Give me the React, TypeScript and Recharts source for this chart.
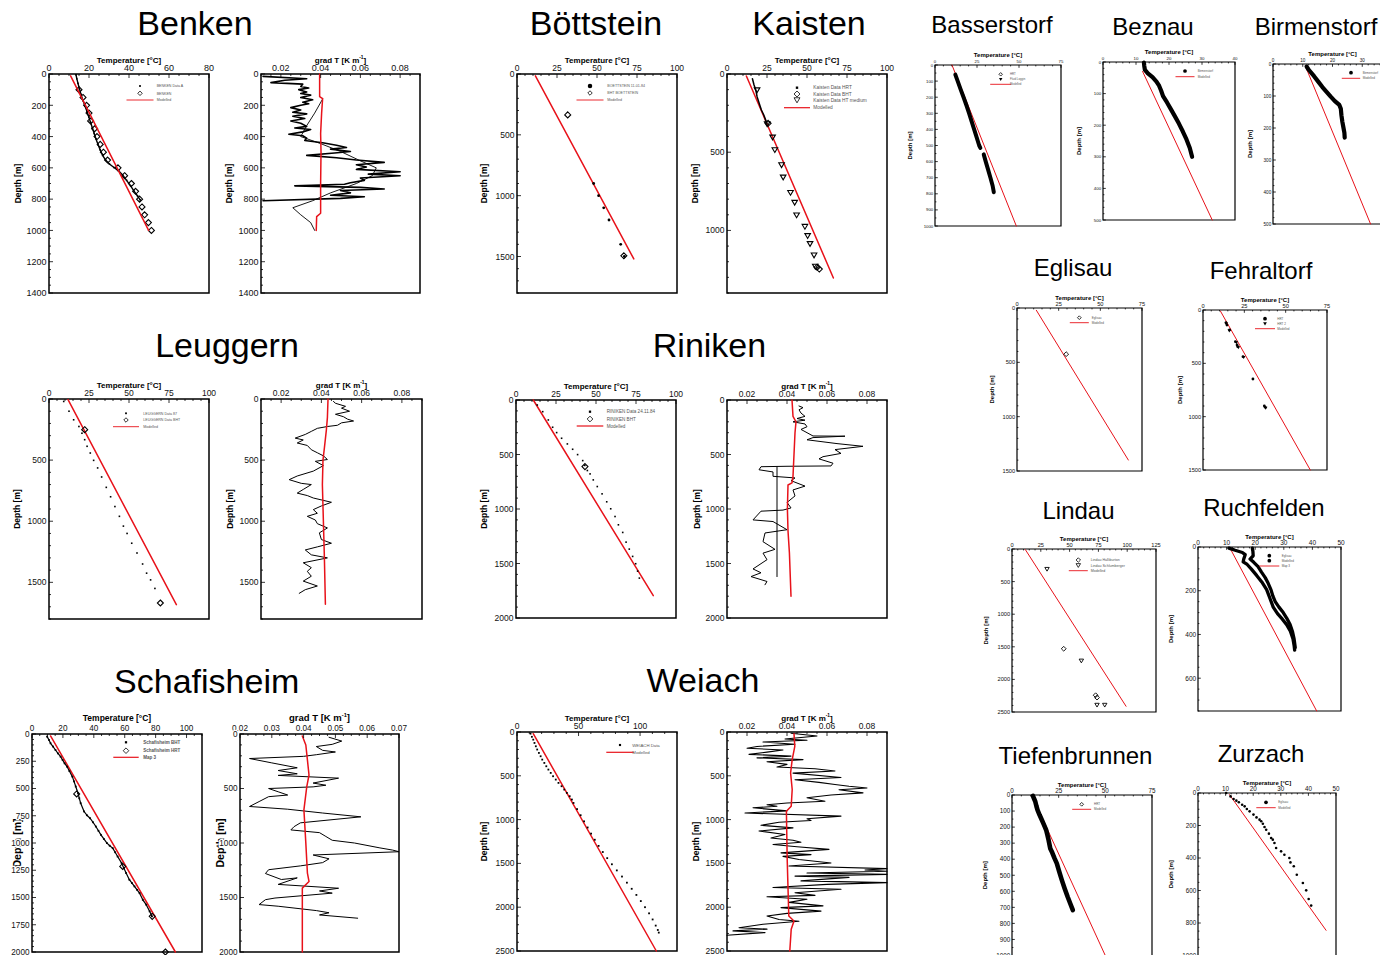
import React from 'react';
import { ScatterChart, Scatter, XAxis, YAxis, ReferenceArea } from 'recharts';

type P = [number, number];

// ---------------- Benken ----------------
const benkenDataA: P[] = [[13.5,5],[13.9,30],[14.5,60],[15.2,95],[16.0,130],[17.0,170],[18.0,205],[19.0,240],[19.9,275],[20.8,310],[21.7,345],[22.6,380],[23.5,415],[24.5,450],[25.6,485],[26.8,520],[28.3,550],[30.2,575],[32.5,598],[34.8,618],[36.8,645],[38.8,680],[40.8,715],[42.6,750],[44.3,780],[45.6,805]];
const benkenBht: P[] = [[15.0,100],[17.0,150],[18.8,200],[20.0,250],[20.8,300],[22.8,350],[24.0,400],[25.6,450],[27.2,500],[29.3,550],[34.5,600],[37.8,650],[41.2,700],[43.3,750],[45.3,800],[46.5,850],[47.8,900],[49.7,950],[51.2,1000]];
const benkenModel: P[] = [[10.8,12],[49.8,1000]];
const benkenGrad: P[] = [[0.011,15],[0.033,30],[0.022,40],[0.015,55],[0.031,65],[0.030,80],[0.034,90],[0.029,100],[0.033,115],[0.030,125],[0.035,135],[0.030,150],[0.036,165],[0.031,180],[0.034,190],[0.030,200],[0.025,215],[0.030,230],[0.026,245],[0.033,255],[0.026,270],[0.032,285],[0.025,300],[0.030,315],[0.033,335],[0.027,345],[0.035,355],[0.031,370],[0.024,385],[0.031,395],[0.033,410],[0.032,425],[0.041,440],[0.048,455],[0.053,470],[0.045,480],[0.055,495],[0.047,505],[0.033,520],[0.048,535],[0.058,550],[0.072,565],[0.058,580],[0.063,595],[0.058,610],[0.080,625],[0.064,640],[0.080,650],[0.060,665],[0.062,680],[0.055,695],[0.052,705],[0.027,715],[0.060,725],[0.072,735],[0.050,745],[0.055,760],[0.045,775],[0.062,785],[0.050,795],[0.011,810]];
const benkenGradSmooth: P[] = [[0.041,160],[0.037,250],[0.033,330],[0.030,400],[0.040,445],[0.050,495],[0.060,555],[0.068,600],[0.066,650],[0.058,700],[0.045,760],[0.036,810],[0.026,855],[0.030,900],[0.035,950],[0.037,1000]];
const benkenGradModel: P[] = [[0.0395,0],[0.0395,145],[0.041,158],[0.0405,250],[0.0400,380],[0.0402,500],[0.0400,700],[0.0400,890],[0.0380,912],[0.0378,1000]];

// ---------------- Böttstein ----------------
const boettData: P[] = [[47.9,900],[51.0,1000],[54.2,1100],[57.5,1200],[64.8,1400],[67.1,1500]];
const boettBht: P[] = [[31.7,336],[66.8,1494]];
const boettModel: P[] = [[11.5,15],[73.0,1520]];

// ---------------- Kaisten ----------------
const kaistenHrt: P[] = [[15.9,30],[16.9,70],[18.0,102],[18.8,145],[20.1,187],[21.5,230],[23.0,262],[24.3,298],[25.1,319]];
const kaistenBht: P[] = [[25.7,315],[56.3,1235],[57.7,1247]];
const kaistenHt: P[] = [[18.8,102],[25.1,319],[28.5,404],[29.9,485],[34.1,581],[35.1,660],[39.7,758],[42.3,821],[43.5,902],[48.7,975],[50.4,1034],[51.9,1085],[54.4,1158],[55.2,1230]];
const kaistenModel: P[] = [[12.1,13],[66.5,1304]];

// ---------------- Basserstorf ----------------
const basserHrtUpper: P[] = [[12.1,60],[13.5,100],[15.2,150],[17.0,200],[18.7,250],[20.3,300],[21.8,350],[23.3,400],[24.8,450],[26.3,500],[27.0,515]];
const basserHrtLower: P[] = [[29.0,555],[30.2,600],[31.6,650],[33.0,700],[34.3,750],[35.0,790]];
const basserModel: P[] = [[10.1,0],[48.4,1000]];

// ---------------- Beznau ----------------
const beznauData: P[] = [[12.4,2],[12.5,12],[12.7,25],[13.6,36],[15.0,48],[16.2,62],[17.0,75],[17.6,90],[18.2,108],[19.4,128],[20.6,150],[21.8,172],[23.0,195],[24.2,220],[25.3,245],[26.3,272],[27.0,300]];
const beznauModel: P[] = [[12.0,30],[33.1,500]];

// ---------------- Birmenstorf ----------------
const birmenData: P[] = [[11.3,8],[12.0,18],[13.8,38],[15.2,55],[16.6,72],[18.0,87],[19.4,102],[20.8,116],[22.3,128],[22.8,140],[23.0,160],[23.3,180],[23.7,200],[24.0,215],[24.1,230]];
const birmenModel: P[] = [[10.9,7],[32.8,500]];

// ---------------- Eglisau ----------------
const eglisauData: P[] = [[29.5,425]];
const eglisauModel: P[] = [[11.6,21],[66.8,1399]];

// ---------------- Fehraltorf ----------------
const fehrHrt: P[] = [[13.9,119],[14.5,141],[16.1,187],[19.6,297],[20.6,328],[21.0,344],[24.2,438],[30.2,647],[37.1,900],[37.7,912]];
const fehrHrt2: P[] = [[14.1,131],[15.9,194],[20.2,306],[21.4,353],[24.6,444],[37.9,919]];
const fehrModel: P[] = [[10.5,9],[64.9,1500]];

// ---------------- Leuggern ----------------
const leuggData: P[] = [[9.2,20],[12.5,100],[15.4,170],[18.7,225],[20.6,280],[22.3,333],[23.8,387],[25.8,442],[27.9,502],[30.4,564],[32.9,638],[35.8,723],[38.5,800],[41.2,880],[44.0,960],[46.5,1040],[48.8,1100],[51.7,1180],[55.0,1260],[58.5,1350],[61.0,1425],[63.5,1480],[66.2,1550]];
const leuggBht: P[] = [[22.3,251],[69.6,1669]];
const leuggModel: P[] = [[11.9,5],[79.6,1683]];
const leuggGrad: P[] = [[0.046,20],[0.047,35],[0.052,60],[0.050,75],[0.054,100],[0.047,125],[0.051,145],[0.053,165],[0.056,180],[0.050,195],[0.048,215],[0.043,225],[0.038,240],[0.035,265],[0.032,290],[0.027,320],[0.031,335],[0.028,360],[0.033,380],[0.035,415],[0.038,440],[0.041,465],[0.043,495],[0.037,510],[0.041,545],[0.036,590],[0.028,630],[0.024,660],[0.030,690],[0.035,700],[0.031,740],[0.028,770],[0.033,790],[0.036,810],[0.045,845],[0.040,875],[0.036,905],[0.038,935],[0.033,960],[0.037,990],[0.038,1020],[0.043,1055],[0.039,1095],[0.040,1150],[0.045,1180],[0.038,1210],[0.032,1235],[0.035,1275],[0.043,1300],[0.031,1340],[0.035,1380],[0.033,1410],[0.035,1450],[0.031,1490],[0.038,1530],[0.032,1560],[0.029,1590]];
const leuggGradModel: P[] = [[0.0433,0],[0.0430,150],[0.0425,250],[0.0415,400],[0.0408,500],[0.0405,700],[0.0410,1000],[0.0415,1300],[0.0420,1680]];

// ---------------- Riniken ----------------
const rinData: P[] = [[13.3,46],[16.7,107],[20.2,183],[22.9,250],[25.4,299],[28.5,351],[32.1,403],[35.4,452],[38.5,501],[41.7,556],[43.0,600],[44.6,647],[46.3,678],[48.3,733],[50.8,794],[53.8,861],[56.7,934],[59.2,998],[61.9,1069],[64.0,1145],[66.7,1215],[68.8,1304],[70.8,1368],[72.9,1435],[74.8,1502],[76.0,1570],[77.1,1634]];
const rinBht: P[] = [[43.1,611]];
const rinModel: P[] = [[10.8,0],[85.8,1795]];
const rinGrad: P[] = [[0.046,55],[0.048,70],[0.046,90],[0.047,120],[0.049,150],[0.045,170],[0.049,185],[0.043,200],[0.049,220],[0.050,245],[0.047,270],[0.050,300],[0.053,330],[0.069,332],[0.053,345],[0.050,365],[0.065,400],[0.078,425],[0.064,455],[0.067,490],[0.058,520],[0.056,540],[0.063,580],[0.062,605],[0.040,608],[0.027,612],[0.026,640],[0.033,660],[0.033,700],[0.044,715],[0.042,740],[0.049,790],[0.043,825],[0.044,880],[0.040,940],[0.042,990],[0.038,1010],[0.027,1020],[0.023,1100],[0.033,1115],[0.040,1190],[0.029,1220],[0.028,1300],[0.034,1370],[0.028,1405],[0.030,1465],[0.023,1550],[0.027,1585],[0.022,1620],[0.030,1665],[0.029,1695]];
const rinGradMean: P[] = [[0.035,615],[0.035,1620]];
const rinGradModel: P[] = [[0.0425,0],[0.0430,150],[0.0445,200],[0.0440,300],[0.0435,500],[0.0430,700],[0.0425,760],[0.0405,780],[0.0402,1000],[0.0405,1200],[0.0412,1400],[0.0420,1800]];

// ---------------- Lindau ----------------
const lindauHall: P[] = [[44.9,1530],[72.6,2243],[73.8,2279]];
const lindauSchl: P[] = [[30.4,308],[60.2,1714],[73.8,2392],[80.5,2392]];
const lindauModel: P[] = [[11.6,10],[99.0,2412]];

// ---------------- Ruchfelden ----------------
const ruchLogA: P[] = [[10.8,5],[13.0,15],[15.5,25],[16.5,35],[16.0,55],[15.8,68],[17.2,80],[18.6,100],[20.5,130],[22.3,160],[24.0,195],[25.3,240],[26.3,275],[27.8,305],[29.5,330],[31.0,355],[32.3,385],[33.2,420],[33.6,450],[33.8,472]];
const ruchLogB: P[] = [[19.0,5],[19.2,20],[19.3,40],[18.2,55],[19.5,70],[21.0,90],[22.2,115],[23.5,140],[24.5,165],[25.5,195],[26.2,225],[27.0,250],[28.3,275],[29.8,300],[31.0,325],[32.2,355],[33.0,385],[33.6,420],[34.0,460]];
const ruchModel: P[] = [[11.1,3],[41.5,750]];

// ---------------- Schafisheim ----------------
const schBht: P[] = [[9.8,24],[11.0,55],[12.0,85],[13.6,115],[15.2,147],[16.8,178],[18.5,208],[19.8,238],[21.1,269],[22.7,300],[24.2,340],[26.1,391],[27.2,435],[28.3,482],[29.8,543],[30.6,590],[31.5,635],[33.7,711],[35.5,745],[37.6,773],[39.5,810],[41.3,849],[43.0,888],[44.6,925],[46.5,963],[48.5,1001],[50.3,1025],[52.2,1047],[53.8,1085],[55.4,1124],[58.0,1185],[59.4,1230],[60.9,1276],[63.0,1337],[64.7,1368],[66.3,1398],[68.0,1430],[69.6,1460],[71.7,1521],[73.9,1566],[76.1,1627],[77.6,1673]];
const schHrt: P[] = [[28.9,550],[58.7,1215],[77.8,1673],[86.3,2000]];
const schModel: P[] = [[12.0,18],[92.8,2000]];
const schGrad: P[] = [[0.048,30],[0.052,65],[0.049,95],[0.044,115],[0.046,150],[0.050,165],[0.044,190],[0.040,205],[0.023,225],[0.030,265],[0.038,310],[0.032,335],[0.038,365],[0.032,380],[0.051,405],[0.043,450],[0.047,470],[0.043,485],[0.029,500],[0.032,530],[0.035,560],[0.029,575],[0.026,620],[0.023,665],[0.035,690],[0.046,725],[0.058,760],[0.039,815],[0.037,850],[0.036,880],[0.045,905],[0.047,940],[0.049,975],[0.056,1000],[0.064,1045],[0.068,1065],[0.070,1080],[0.043,1110],[0.048,1145],[0.046,1180],[0.039,1210],[0.029,1245],[0.028,1280],[0.033,1335],[0.038,1320],[0.032,1380],[0.051,1415],[0.045,1440],[0.049,1460],[0.031,1505],[0.028,1520],[0.026,1565],[0.032,1580],[0.044,1620],[0.048,1640],[0.045,1660],[0.057,1690]];
const schGradModel: P[] = [[0.0396,18],[0.0407,101],[0.0412,238],[0.0417,376],[0.0410,482],[0.0401,696],[0.0407,1001],[0.0412,1276],[0.0417,1353],[0.0396,1414],[0.0396,2000]];

// ---------------- Weiach ----------------
const weiData: P[] = [[11.0,19],[12.1,55],[13.2,87],[14.2,125],[15.3,163],[16.4,200],[17.8,239],[19.2,277],[20.5,315],[22.2,353],[23.8,391],[25.5,429],[27.4,467],[29.3,505],[31.5,543],[33.7,581],[36.2,619],[38.4,657],[40.5,695],[42.8,733],[44.6,771],[45.9,810],[48.8,880],[51.7,950],[54.5,1020],[57.4,1090],[60.2,1160],[63.2,1230],[66.3,1300],[69.7,1370],[73.3,1440],[77.1,1510],[81.1,1580],[85.3,1650],[89.3,1720],[93.2,1790],[97.0,1860],[100.6,1930],[104.0,2000],[107.3,2070],[110.2,2140],[112.7,2210],[114.4,2260],[115.2,2290]];
const weiModel: P[] = [[13.2,19],[113.2,2500]];
const weiGrad: P[] = [[0.042,15],[0.055,45],[0.039,80],[0.050,95],[0.028,115],[0.044,140],[0.025,165],[0.020,185],[0.038,205],[0.030,230],[0.021,255],[0.042,275],[0.025,295],[0.048,315],[0.030,340],[0.040,370],[0.035,400],[0.054,420],[0.064,445],[0.043,470],[0.067,520],[0.044,545],[0.056,575],[0.064,600],[0.071,620],[0.080,640],[0.066,660],[0.078,695],[0.062,720],[0.050,750],[0.059,790],[0.040,810],[0.030,830],[0.035,848],[0.023,865],[0.040,900],[0.019,925],[0.067,960],[0.050,990],[0.052,1010],[0.036,1030],[0.027,1065],[0.043,1095],[0.026,1130],[0.039,1170],[0.032,1210],[0.043,1235],[0.047,1258],[0.033,1285],[0.045,1310],[0.061,1340],[0.037,1380],[0.052,1400],[0.038,1420],[0.046,1455],[0.062,1495],[0.041,1530],[0.090,1560],[0.079,1575],[0.090,1590],[0.050,1610],[0.090,1625],[0.044,1645],[0.071,1660],[0.047,1700],[0.090,1720],[0.060,1740],[0.033,1775],[0.067,1795],[0.044,1835],[0.054,1865],[0.030,1880],[0.050,1910],[0.041,1945],[0.058,1985],[0.037,2005],[0.057,2045],[0.040,2070],[0.030,2100],[0.036,2140],[0.046,2160],[0.028,2195],[0.016,2235],[0.030,2250],[0.013,2270],[0.029,2290],[0.010,2320]];
const weiGradModel: P[] = [[0.0435,19],[0.0439,163],[0.0426,315],[0.0418,467],[0.0426,657],[0.0421,847],[0.0397,904],[0.0401,1455],[0.0409,2101],[0.0435,2158],[0.0421,2253],[0.0414,2500]];

// ---------------- Tiefenbrunnen ----------------
const tiefData: P[] = [[11.2,6],[11.9,25],[12.5,42],[13.1,70],[13.7,94],[14.8,125],[16.0,156],[17.2,188],[18.3,218],[19.0,250],[19.6,281],[20.1,310],[20.5,333],[21.6,360],[22.8,395],[24.0,426],[25.3,478],[26.7,530],[28.2,582],[29.8,634],[31.2,676],[32.6,717]];
const tiefModel: P[] = [[10.7,4],[49.9,998]];

// ---------------- Zurzach ----------------
const zurzData: P[] = [[10.2,0],[11.8,21],[12.9,37],[13.9,47],[14.8,57],[16.0,72],[16.9,82],[17.7,98],[18.7,113],[20.1,133],[21.2,150],[22.3,164],[22.9,174],[23.5,189],[24.1,209],[24.7,226],[25.7,250],[26.5,277],[27.1,287],[27.7,308],[28.3,338],[30.1,359],[31.3,380],[33.1,400],[33.5,427],[34.7,451],[35.8,503],[38.0,554],[39.2,599],[40.1,652],[41.0,693]];
const zurzModel: P[] = [[11.4,10],[46.4,845]];

// ---------------- tick labels ----------------
const tTicks80 = [0, 20, 40, 60, 80];
const tTicks100 = [0, 25, 50, 75, 100];
const tTicks75 = [0, 25, 50, 75];
const tTicks40 = [0, 10, 20, 30, 40];
const tTicks50 = [0, 10, 20, 30, 40, 50];
const tTicks125 = [0, 25, 50, 75, 100, 125];
const tTicksSch = [0, 20, 40, 60, 80, 100];
const tTicksWei = [0, 50, 100];
const gTicks = [0.02, 0.04, 0.06, 0.08];
const gTicksSch = [0.02, 0.03, 0.04, 0.05, 0.06, 0.07];
const dTicks1400 = [0, 200, 400, 600, 800, 1000, 1200, 1400];
const dTicks1500 = [0, 500, 1000, 1500];
const dTicks1000by500 = [0, 500, 1000];
const dTicks1000 = [0, 100, 200, 300, 400, 500, 600, 700, 800, 900, 1000];
const dTicks500 = [0, 100, 200, 300, 400, 500];
const dTicks2000 = [0, 500, 1000, 1500, 2000];
const dTicks2500 = [0, 500, 1000, 1500, 2000, 2500];
const dTicks600 = [0, 200, 400, 600];
const dTicksSch = [0, 250, 500, 750, 1000, 1250, 1500, 1750, 2000];
const dTicksZurz = [0, 200, 400, 600, 800, 1000];

const RED = '#e8121a';
const FONT = '"Liberation Sans", Arial, Helvetica, sans-serif';

type Mark = 'line' | 'dot' | 'disc' | 'diamond' | 'tri' | 'triFill';
interface Ser { pts: P[]; mark: Mark; color?: string; w?: number; r?: number; join?: boolean }
interface LegItem { mark: Mark; label: string }
interface Leg { sx: number; tx: number; rows: number[]; fs: number; half: number; bold?: boolean; items: LegItem[] }
interface Pan {
  box: [number, number, number, number];
  xd: [number, number]; yd: [number, number];
  xMaj: number[]; xMin: number; yMaj: number[]; yMin: number;
  dec: number; kind: 'T' | 'G'; big: boolean; tf: number;
  depthDx: number; titleDy?: number; titleFs?: number; depthFs?: number; halo?: boolean;
  series: Ser[]; legend?: Leg;
}

const mod = (pts: P[], w = 1.5): Ser => ({ pts, mark: 'line', color: RED, w });

const panels: Pan[] = [
  { box: [49, 74, 160, 219], xd: [0, 80], yd: [0, 1400], xMaj: tTicks80, xMin: 5, yMaj: dTicks1400, yMin: 50, dec: 0, kind: 'T', big: true, tf: 9, depthDx: 31.5,
    series: [ { pts: benkenDataA, mark: 'dot', r: 0.8, join: true, w: 1.4 }, { pts: benkenBht, mark: 'diamond', r: 3 }, mod(benkenModel) ],
    legend: { sx: 140, tx: 156.7, rows: [86, 93.3, 100], fs: 3.6, half: 13.5, items: [ { mark: 'dot', label: 'BENKEN Data A' }, { mark: 'diamond', label: 'BENKEN' }, { mark: 'line', label: 'Modelled' } ] } },
  { box: [261, 74, 159, 219], xd: [0.01, 0.09], yd: [0, 1400], xMaj: gTicks, xMin: 0.005, yMaj: dTicks1400, yMin: 50, dec: 2, kind: 'G', big: true, tf: 9, depthDx: 32,
    series: [ { pts: benkenGrad, mark: 'line', w: 1.6 }, { pts: benkenGradSmooth, mark: 'line', w: 0.9 }, mod(benkenGradModel) ] },
  { box: [517, 74, 160, 219], xd: [0, 100], yd: [0, 1800], xMaj: tTicks100, xMin: 5, yMaj: dTicks1500, yMin: 100, dec: 0, kind: 'T', big: true, tf: 8.5, depthDx: 33,
    series: [ mod(boettModel), { pts: boettData, mark: 'disc', r: 1.4 }, { pts: boettBht, mark: 'diamond', r: 3 } ],
    legend: { sx: 590, tx: 607.3, rows: [86, 93, 100], fs: 3.6, half: 13.5, items: [ { mark: 'disc', label: 'BOETTSTEIN 11-01-84' }, { mark: 'diamond', label: 'BHT BOETTSTEIN' }, { mark: 'line', label: 'Modelled' } ] } },
  { box: [727, 74, 160, 219], xd: [0, 100], yd: [0, 1400], xMaj: tTicks100, xMin: 5, yMaj: dTicks1000by500, yMin: 100, dec: 0, kind: 'T', big: true, tf: 8.5, depthDx: 32.5,
    series: [ mod(kaistenModel), { pts: kaistenHrt, mark: 'line', w: 1.5 }, { pts: kaistenBht, mark: 'diamond', r: 3 }, { pts: kaistenHt, mark: 'tri', r: 2.8 } ],
    legend: { sx: 797, tx: 813.3, rows: [87.7, 94, 100, 107.7], fs: 4.8, half: 13, items: [ { mark: 'dot', label: 'Kaisten Data HRT' }, { mark: 'diamond', label: 'Kaisten Data BHT' }, { mark: 'tri', label: 'Kaisten Data HT medium' }, { mark: 'line', label: 'Modelled' } ] } },
  { box: [935, 65, 126, 161], xd: [0, 75], yd: [0, 1000], xMaj: tTicks75, xMin: 5, yMaj: dTicks1000, yMin: 50, dec: 0, kind: 'T', big: false, tf: 4.3, depthDx: 25,
    series: [ mod(basserModel, 1), { pts: basserHrtUpper, mark: 'line', w: 4 }, { pts: basserHrtLower, mark: 'line', w: 4 } ],
    legend: { sx: 1000.7, tx: 1010, rows: [74.3, 79.3, 84.3], fs: 2.8, half: 10.5, items: [ { mark: 'diamond', label: 'HRT' }, { mark: 'triFill', label: 'Fluid Loggin' }, { mark: 'line', label: 'Modelled' } ] } },
  { box: [1103, 62, 132, 158], xd: [0, 40], yd: [0, 500], xMaj: tTicks40, xMin: 2, yMaj: dTicks500, yMin: 20, dec: 0, kind: 'T', big: false, tf: 4.4, depthDx: 24.5,
    series: [ mod(beznauModel, 1), { pts: beznauData, mark: 'line', w: 4.2 } ],
    legend: { sx: 1185, tx: 1197.7, rows: [71, 76.7], fs: 3, half: 9.5, items: [ { mark: 'disc', label: 'Birmenstorf' }, { mark: 'line', label: 'Modelled' } ] } },
  { box: [1273, 64, 119, 160], xd: [0, 40], yd: [0, 500], xMaj: tTicks40, xMin: 2, yMaj: dTicks500, yMin: 20, dec: 0, kind: 'T', big: false, tf: 4.6, depthDx: 23,
    series: [ mod(birmenModel, 1), { pts: birmenData, mark: 'line', w: 4.2 } ],
    legend: { sx: 1351, tx: 1362.7, rows: [72.7, 78.3], fs: 3, half: 9.2, items: [ { mark: 'disc', label: 'Birmenstorf' }, { mark: 'line', label: 'Modelled' } ] } },
  { box: [1017, 308, 125, 163], xd: [0, 75], yd: [0, 1500], xMaj: tTicks75, xMin: 5, yMaj: dTicks1500, yMin: 100, dec: 0, kind: 'T', big: false, tf: 5.7, depthDx: 25.5,
    series: [ mod(eglisauModel, 1), { pts: eglisauData, mark: 'diamond', r: 2.4 } ],
    legend: { sx: 1079.3, tx: 1091.7, rows: [317.7, 322.7], fs: 3, half: 9.5, items: [ { mark: 'diamond', label: 'Eglisau' }, { mark: 'line', label: 'Modelled' } ] } },
  { box: [1203, 310, 124, 160], xd: [0, 75], yd: [0, 1500], xMaj: tTicks75, xMin: 5, yMaj: dTicks1500, yMin: 100, dec: 0, kind: 'T', big: false, tf: 5.7, depthDx: 23,
    series: [ mod(fehrModel, 1), { pts: fehrHrt, mark: 'disc', r: 1.4 }, { pts: fehrHrt2, mark: 'triFill', r: 1.8 } ],
    legend: { sx: 1265, tx: 1277.3, rows: [318.7, 323.7, 328.7], fs: 3, half: 10, items: [ { mark: 'disc', label: 'HRT' }, { mark: 'triFill', label: 'HRT 2' }, { mark: 'line', label: 'Modelled' } ] } },
  { box: [49, 399, 160, 220], xd: [0, 100], yd: [0, 1800], xMaj: tTicks100, xMin: 5, yMaj: dTicks1500, yMin: 100, dec: 0, kind: 'T', big: true, tf: 8.5, depthDx: 32,
    series: [ mod(leuggModel), { pts: leuggData, mark: 'dot', r: 0.8 }, { pts: leuggBht, mark: 'diamond', r: 3 } ],
    legend: { sx: 126, tx: 143.3, rows: [413.3, 420, 426.7], fs: 3.6, half: 13, items: [ { mark: 'dot', label: 'LEUGGERN Data 87' }, { mark: 'diamond', label: 'LEUGGERN Data BHT' }, { mark: 'line', label: 'Modelled' } ] } },
  { box: [261, 399, 161, 220], xd: [0.01, 0.09], yd: [0, 1800], xMaj: gTicks, xMin: 0.005, yMaj: dTicks1500, yMin: 100, dec: 2, kind: 'G', big: true, tf: 8.5, depthDx: 31.5,
    series: [ { pts: leuggGrad, mark: 'line', w: 1 }, mod(leuggGradModel) ] },
  { box: [516, 400, 160, 218], xd: [0, 100], yd: [0, 2000], xMaj: tTicks100, xMin: 5, yMaj: dTicks2000, yMin: 100, dec: 0, kind: 'T', big: true, tf: 8.5, depthDx: 32,
    series: [ mod(rinModel), { pts: rinData, mark: 'dot', r: 0.8 }, { pts: rinBht, mark: 'diamond', r: 3 } ],
    legend: { sx: 590, tx: 606.7, rows: [411.7, 419, 426], fs: 4.6, half: 13.3, items: [ { mark: 'dot', label: 'RINIKEN Data 24.11.84' }, { mark: 'diamond', label: 'RINIKEN BHT' }, { mark: 'line', label: 'Modelled' } ] } },
  { box: [727, 400, 160, 218], xd: [0.01, 0.09], yd: [0, 2000], xMaj: gTicks, xMin: 0.005, yMaj: dTicks2000, yMin: 100, dec: 2, kind: 'G', big: true, tf: 8.5, depthDx: 30.5,
    series: [ { pts: rinGrad, mark: 'line', w: 1 }, { pts: rinGradMean, mark: 'line', w: 1 }, mod(rinGradModel) ] },
  { box: [1012, 549, 144, 163], xd: [0, 125], yd: [0, 2500], xMaj: tTicks125, xMin: 5, yMaj: dTicks2500, yMin: 100, dec: 0, kind: 'T', big: false, tf: 5.7, depthDx: 26.5,
    series: [ mod(lindauModel, 1), { pts: lindauHall, mark: 'diamond', r: 2.4 }, { pts: lindauSchl, mark: 'tri', r: 2.2 } ],
    legend: { sx: 1078.3, tx: 1090.7, rows: [560, 565.3, 570.7], fs: 3.6, half: 9.5, items: [ { mark: 'diamond', label: 'Lindau Halliburton' }, { mark: 'tri', label: 'Lindau Schlumberger' }, { mark: 'line', label: 'Modelled' } ] } },
  { box: [1198, 547, 143, 164], xd: [0, 50], yd: [0, 750], xMaj: tTicks50, xMin: 2, yMaj: dTicks600, yMin: 50, dec: 0, kind: 'T', big: false, tf: 6.5, depthDx: 27,
    series: [ mod(ruchModel, 1), { pts: ruchLogA, mark: 'line', w: 3.3 }, { pts: ruchLogB, mark: 'line', w: 3.3 } ],
    legend: { sx: 1269.3, tx: 1281.7, rows: [555.7, 560.7, 566], fs: 3, half: 10, items: [ { mark: 'disc', label: 'Eglisau' }, { mark: 'disc', label: 'Modelled' }, { mark: 'line', label: 'Map 3' } ] } },
  { box: [32, 734, 170, 218], xd: [0, 110], yd: [0, 2000], xMaj: tTicksSch, xMin: 5, yMaj: dTicksSch, yMin: 50, dec: 0, kind: 'T', big: true, tf: 8.2, depthDx: 15, titleDy: 13, titleFs: 8.5, depthFs: 10.5, halo: true,
    series: [ mod(schModel), { pts: schBht, mark: 'dot', r: 0.9, join: true, w: 1.2 }, { pts: schHrt, mark: 'diamond', r: 3 } ],
    legend: { sx: 126, tx: 143.3, rows: [742.3, 750.7, 757.3], fs: 4.5, half: 12.7, bold: true, items: [ { mark: 'dot', label: 'Schafisheim BHT' }, { mark: 'diamond', label: 'Schafisheim HRT' }, { mark: 'line', label: 'Map 3' } ] } },
  { box: [240, 734, 159, 218], xd: [0.02, 0.07], yd: [0, 2000], xMaj: gTicksSch, xMin: 0.0025, yMaj: dTicks2000, yMin: 100, dec: 2, kind: 'G', big: true, tf: 8.2, depthDx: 19.5, titleDy: 13, titleFs: 9.5, depthFs: 10.5, halo: true,
    series: [ { pts: schGrad, mark: 'line', w: 1 }, mod(schGradModel) ] },
  { box: [517, 732, 160, 219], xd: [0, 130], yd: [0, 2500], xMaj: tTicksWei, xMin: 10, yMaj: dTicks2500, yMin: 100, dec: 0, kind: 'T', big: true, tf: 8.5, depthDx: 33,
    series: [ mod(weiModel), { pts: weiData, mark: 'dot', r: 0.9 } ],
    legend: { sx: 620, tx: 632.3, rows: [745, 752.3], fs: 4.3, half: 13.7, items: [ { mark: 'dot', label: 'WEIACH Data' }, { mark: 'line', label: 'Modelled' } ] } },
  { box: [727, 732, 160, 219], xd: [0.01, 0.09], yd: [0, 2500], xMaj: gTicks, xMin: 0.005, yMaj: dTicks2500, yMin: 100, dec: 2, kind: 'G', big: true, tf: 8.5, depthDx: 31.5,
    series: [ { pts: weiGrad, mark: 'line', w: 1.1 }, mod(weiGradModel) ] },
  { box: [1012, 795, 140, 160.5], xd: [0, 75], yd: [0, 1000], xMaj: tTicks75, xMin: 5, yMaj: dTicks1000, yMin: 50, dec: 0, kind: 'T', big: false, tf: 6.3, depthDx: 27,
    series: [ mod(tiefModel, 1), { pts: tiefData, mark: 'line', w: 4.6 } ],
    legend: { sx: 1081.7, tx: 1094, rows: [804.3, 809.3], fs: 3, half: 9.5, items: [ { mark: 'diamond', label: 'HRT' }, { mark: 'line', label: 'Modelled' } ] } },
  { box: [1198, 793, 138, 162.5], xd: [0, 50], yd: [0, 1000], xMaj: tTicks50, xMin: 2, yMaj: dTicksZurz, yMin: 50, dec: 0, kind: 'T', big: false, tf: 6.3, depthDx: 27,
    series: [ mod(zurzModel, 1), { pts: zurzData, mark: 'disc', r: 1.3 } ],
    legend: { sx: 1266, tx: 1278.3, rows: [802.3, 807.7], fs: 3, half: 9.7, items: [ { mark: 'disc', label: 'Eglisau' }, { mark: 'line', label: 'Modelled' } ] } },
];

const titles = [
  { text: 'Benken', x: 195, y: 35, fs: 34 },
  { text: 'Böttstein', x: 596, y: 35, fs: 34 },
  { text: 'Kaisten', x: 809, y: 35, fs: 34 },
  { text: 'Basserstorf', x: 992, y: 33, fs: 24 },
  { text: 'Beznau', x: 1153, y: 35, fs: 24 },
  { text: 'Birmenstorf', x: 1316, y: 35, fs: 24 },
  { text: 'Eglisau', x: 1073, y: 276, fs: 24 },
  { text: 'Fehraltorf', x: 1261, y: 279, fs: 24 },
  { text: 'Leuggern', x: 227, y: 357, fs: 34 },
  { text: 'Riniken', x: 709.5, y: 357, fs: 34 },
  { text: 'Lindau', x: 1078.5, y: 519, fs: 24 },
  { text: 'Ruchfelden', x: 1264, y: 516, fs: 24 },
  { text: 'Schafisheim', x: 206.7, y: 693, fs: 34 },
  { text: 'Weiach', x: 703, y: 692, fs: 34 },
  { text: 'Tiefenbrunnen', x: 1075.5, y: 764, fs: 24 },
  { text: 'Zurzach', x: 1261, y: 762, fs: 24 },
];

const AX = 30;
const AY = 46;
const PAD = 3;

const span = (lo: number, hi: number, step: number) => {
  const out: number[] = [];
  for (let v = lo; v <= hi + step * 1e-6; v += step) out.push(Math.round(v * 1e6) / 1e6);
  return out;
};
const tickSet = (maj: number[], d: [number, number], step: number) => {
  const all = [...maj, ...span(d[0], d[1], step)].sort((a, b) => a - b);
  const out: number[] = [];
  all.forEach((v) => { if (!out.some((u) => Math.abs(u - v) < 1e-9)) out.push(v); });
  return out;
};
const isMaj = (maj: number[], v: number) => maj.some((m) => Math.abs(m - v) < 1e-9);

function markShape(mark: Mark, cx: number, cy: number, r: number, color: string, sw: number) {
  if (cx == null || cy == null || Number.isNaN(cx) || Number.isNaN(cy)) return <g />;
  switch (mark) {
    case 'dot':
      return <rect x={cx - r} y={cy - r} width={2 * r} height={2 * r} fill={color} />;
    case 'disc':
      return <circle cx={cx} cy={cy} r={r} fill={color} />;
    case 'diamond':
      return <path d={`M${cx},${cy - r}L${cx + r},${cy}L${cx},${cy + r}L${cx - r},${cy}Z`} fill="none" stroke={color} strokeWidth={sw} />;
    case 'tri':
      return <path d={`M${cx - r},${cy - r * 0.75}L${cx + r},${cy - r * 0.75}L${cx},${cy + r * 0.95}Z`} fill="none" stroke={color} strokeWidth={sw} />;
    case 'triFill':
      return <path d={`M${cx - r},${cy - r * 0.75}L${cx + r},${cy - r * 0.75}L${cx},${cy + r * 0.95}Z`} fill={color} />;
    default:
      return <g />;
  }
}

function TopTick(props: any) {
  const { x, y, payload, pan } = props;
  const v = payload.value as number;
  const major = isMaj(pan.xMaj, v);
  const gap = pan.big ? 3 : 2.4;
  const len = pan.big ? 4 : 2.8;
  const ay = y + gap;
  return (
    <g>
      <line x1={x} x2={x} y1={ay} y2={ay + (major ? len : len / 2)} stroke="#000" strokeWidth={0.8} />
      {major && (
        <text x={x} y={y} textAnchor="middle" fontSize={pan.tf} fontFamily={FONT} fill="#111"
          stroke={pan.halo ? '#fff' : 'none'} strokeWidth={pan.halo ? 2 : 0} style={{ paintOrder: 'stroke' }}>
          {v.toFixed(pan.dec)}
        </text>
      )}
    </g>
  );
}

function LeftTick(props: any) {
  const { x, y, payload, pan } = props;
  const v = payload.value as number;
  const major = isMaj(pan.yMaj, v);
  const gap = pan.big ? 2.5 : 1.8;
  const len = pan.big ? 4 : 2.8;
  const ax = x + gap;
  return (
    <g>
      <line x1={ax} x2={ax + (major ? len : len / 2)} y1={y} y2={y} stroke="#000" strokeWidth={0.8} />
      {major && (
        <text x={x} y={y + pan.tf * 0.36} textAnchor="end" fontSize={pan.tf} fontFamily={FONT} fill="#111"
          stroke={pan.halo ? '#fff' : 'none'} strokeWidth={pan.halo ? 2.5 : 0} style={{ paintOrder: 'stroke' }}>
          {v.toFixed(0)}
        </text>
      )}
    </g>
  );
}

function Panel({ pan }: { pan: Pan }) {
  const [l, t, w, h] = pan.box;
  const xt = tickSet(pan.xMaj, pan.xd, pan.xMin);
  const yt = tickSet(pan.yMaj, pan.yd, pan.yMin);
  const frameW = pan.big ? 1.5 : 1.2;
  return (
    <div style={{ position: 'absolute', left: l - AY, top: t - AX }}>
      <ScatterChart width={w + AY + PAD} height={h + AX + PAD} margin={{ top: 0, right: PAD, bottom: PAD, left: 0 }} style={{ overflow: 'visible' }}>
        <XAxis dataKey="x" type="number" orientation="top" domain={pan.xd} ticks={xt} interval={0} height={AX}
          axisLine={false} tickLine={false} tickSize={0} tickMargin={pan.big ? 3 : 2.4}
          tick={(p: any) => <TopTick {...p} pan={pan} />} />
        <YAxis dataKey="y" type="number" reversed domain={pan.yd} ticks={yt} interval={0} width={AY}
          axisLine={false} tickLine={false} tickSize={0} tickMargin={pan.big ? 2.5 : 1.8}
          tick={(p: any) => <LeftTick {...p} pan={pan} />} />
        <ReferenceArea x1={pan.xd[0]} x2={pan.xd[1]} y1={pan.yd[0]} y2={pan.yd[1]} fill="none" fillOpacity={0} stroke="#000" strokeWidth={frameW} />
        {pan.series.map((s, i) => {
          const color = s.color ?? '#000';
          const lineOn = s.mark === 'line' || s.join;
          return (
            <Scatter key={i} data={s.pts.map(([x, y]) => ({ x, y }))} isAnimationActive={false}
              fill={color}
              line={lineOn ? { stroke: color, strokeWidth: s.w ?? 1, strokeLinejoin: 'round', strokeLinecap: 'round' } : false}
              lineType="joint"
              shape={(p: any) => (s.mark === 'line' ? <g /> : markShape(s.mark, p.cx, p.cy, s.r ?? 1, color, pan.big ? 1.1 : 0.9))} />
          );
        })}
      </ScatterChart>
    </div>
  );
}

function LegendBlock({ leg }: { leg: Leg }) {
  return (
    <g>
      {leg.items.map((it, i) => {
        const y = leg.rows[i];
        const ms = leg.fs * 0.62;
        return (
          <g key={i}>
            {it.mark === 'line' ? (
              <line x1={leg.sx - leg.half} x2={leg.sx + leg.half} y1={y} y2={y} stroke={RED} strokeWidth={leg.fs > 4 ? 1.2 : 0.9} />
            ) : (
              markShape(it.mark, leg.sx, y, it.mark === 'dot' ? ms * 0.4 : ms, '#000', 0.8)
            )}
            <text x={leg.tx} y={y + leg.fs * 0.35} fontSize={leg.fs} fontFamily={FONT} fill="#555" fontWeight={leg.bold ? 'bold' : 'normal'}>{it.label}</text>
          </g>
        );
      })}
    </g>
  );
}

function AxisTitles({ pan }: { pan: Pan }) {
  const [l, t, w, h] = pan.box;
  const fs = pan.titleFs ?? (pan.big ? 8 : 6);
  const ty = t - (pan.titleDy ?? (pan.big ? 11.5 : 8.5));
  const dfs = pan.depthFs ?? (pan.big ? 8.5 : 6);
  const dx = l - pan.depthDx + dfs * 0.36;
  const dy = t + h / 2;
  return (
    <g fontFamily={FONT} fontWeight="bold" fill="#000">
      {pan.kind === 'T' ? (
        <text x={l + w / 2} y={ty} textAnchor="middle" fontSize={fs}>Temperature [°C]</text>
      ) : (
        <text x={l + w / 2} y={ty} textAnchor="middle" fontSize={fs}>
          grad T [K m<tspan dy={-fs * 0.4} fontSize={fs * 0.6}>-1</tspan><tspan dy={fs * 0.4}>]</tspan>
        </text>
      )}
      <text x={dx} y={dy} textAnchor="middle" fontSize={dfs} transform={`rotate(-90 ${dx} ${dy})`}>Depth [m]</text>
    </g>
  );
}

export default function App() {
  return (
    <div style={{ position: 'absolute', left: 0, top: 0, width: 1380, height: 955, overflow: 'hidden', background: '#fff' }}>
      <style>{'.recharts-surface, .recharts-wrapper { overflow: visible !important; }'}</style>
      <svg width={1380} height={955} style={{ position: 'absolute', left: 0, top: 0 }}>
        {titles.map((tt, i) => (
          <text key={i} x={tt.x} y={tt.y} textAnchor="middle" fontSize={tt.fs} fontFamily={FONT} fill="#000">{tt.text}</text>
        ))}
        {panels.map((p, i) => <AxisTitles key={i} pan={p} />)}
      </svg>
      {panels.map((p, i) => <Panel key={i} pan={p} />)}
      <svg width={1380} height={955} style={{ position: 'absolute', left: 0, top: 0, pointerEvents: 'none' }}>
        {panels.map((p, i) => (p.legend ? <LegendBlock key={i} leg={p.legend} /> : null))}
      </svg>
    </div>
  );
}
